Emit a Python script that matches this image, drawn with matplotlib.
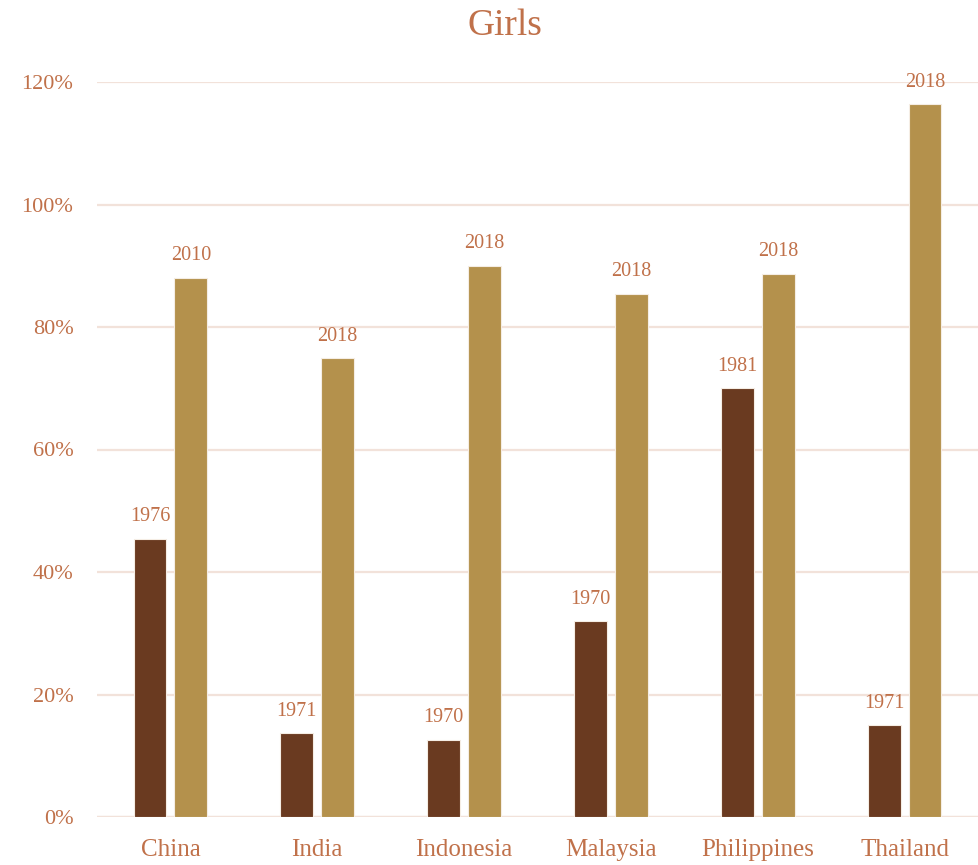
import matplotlib
matplotlib.use("Agg")
import matplotlib.pyplot as plt
import numpy as np

countries = ["China", "India", "Indonesia", "Malaysia", "Philippines", "Thailand"]
early_values = [45.4, 13.7, 12.6, 32.0, 70.0, 15.0]
early_years = ["1976", "1971", "1970", "1970", "1981", "1971"]
late_values = [88.0, 74.9, 90.0, 85.4, 88.7, 116.4]
late_years = ["2010", "2018", "2018", "2018", "2018", "2018"]
yticks = [0, 20, 40, 60, 80, 100, 120]

dark = "#6A3A20"
gold = "#B4914C"
txt = "#C0714A"
grid = "#F2E2DA"
font = ["Liberation Serif", "DejaVu Serif"]

fig = plt.figure(figsize=(9.79, 8.65), dpi=100)
ax = fig.add_axes([97/979, 48/865, 881/979, 735/865])

x = np.arange(len(countries))
w = 0.224
off = 0.139
b1 = ax.bar(x - off, early_values, w, color=dark, edgecolor="#F5EDE4", linewidth=0.8, zorder=3)
b2 = ax.bar(x + off, late_values, w, color=gold, edgecolor="#F5EDE4", linewidth=0.8, zorder=3)

for rect, lab in zip(b1, early_years):
    ax.annotate(lab, (rect.get_x() + rect.get_width()/2, rect.get_height()),
                xytext=(0, 9), textcoords="offset points", ha="center", va="bottom",
                color=txt, fontsize=14.5, family=font, annotation_clip=False)
for rect, lab in zip(b2, late_years):
    ax.annotate(lab, (rect.get_x() + rect.get_width()/2, rect.get_height()),
                xytext=(0, 9), textcoords="offset points", ha="center", va="bottom",
                color=txt, fontsize=14.5, family=font, annotation_clip=False)

ax.set_xlim(-0.5, 5.5)
ax.set_ylim(0, 120)
ax.set_yticks(yticks)
ax.set_yticklabels([f"{v}%" for v in yticks], family=font, fontsize=16, color=txt)
ax.set_xticks(x)
ax.set_xticklabels(countries, family=font, fontsize=18, color=txt)
ax.tick_params(axis="both", length=0)
ax.tick_params(axis="y", pad=17)
ax.tick_params(axis="x", pad=16)
ax.grid(axis="y", color=grid, linewidth=1.6, zorder=0)
for s in ax.spines.values():
    s.set_visible(False)
ax.axhline(0, color=grid, linewidth=1.6, zorder=1)

fig.text(505/979, 1 - 26/865, "Girls", ha="center", va="center", fontsize=27,
         color=txt, family=font)

fig.savefig("out.png", dpi=100)
